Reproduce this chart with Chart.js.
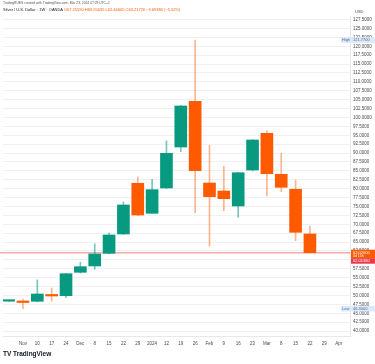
<!DOCTYPE html>
<html>
<head>
<meta charset="utf-8">
<script src="https://cdn.jsdelivr.net/npm/chart.js@4"></script>
<style>
  html, body { margin: 0; padding: 0; background: #fff; }
  #wrap { position: relative; width: 375px; height: 364px; overflow: hidden; }
  #c { position: absolute; left: 0; top: 0; }
  .t { position: absolute; white-space: nowrap; font-family: "Liberation Sans", Arial, sans-serif; line-height: 1; }
  #h1 { left: 3px; top: 1.5px; font-size: 3.3px; color: #555; }
  #h2 { left: 3px; top: 8px; font-size: 4px; color: #222; }
  #h2 span { color: #ff5a00; }
  #usd { left: 355px; top: 10px; font-size: 4px; color: #444; }
  #logo { left: 3px; top: 351px; font-size: 6.5px; font-weight: bold; color: #131722; }
</style>
</head>
<body>
<div id="wrap">
  <canvas id="c" width="375" height="364"></canvas>
  <div class="t" id="h1">TradingRUES created with TradingView.com, Mar 23, 2024 07:29 UTC+1</div>
  <div class="t" id="h2">Silver / U.S. Dollar · 1W · OANDA <span>O67.25590 H69.95635 L62.46605 C63.21720 −3.69380 (−5.52%)</span></div>
  <div class="t" id="usd">USD</div>
  <div class="t" id="logo">TV TradingView</div>
</div>
<script>
// weekly candles, first one is cut off at the left edge
const weeks = ['', 'Nov', '10', '17', '24', 'Dec', '8', '15', '22', '29', '2024', '12', '19', '26', 'Feb', '9', '16', '23', 'Mar', '8', '15', '22', '29', 'Apr'];
const opens  = [48.40, 48.46, 48.37, 50.28, 49.94, 56.52, 58.29, 61.85, 67.28, 81.52, 73.09, 80.20, 91.71, 104.55, 81.60, 79.35, 75.14, 85.25, 95.56, 84.04, 79.83, 67.28];
const highs  = [48.60, 49.00, 54.35, 52.10, 56.20, 59.33, 64.55, 67.56, 76.26, 83.30, 82.64, 93.40, 103.40, 121.77, 92.19, 86.38, 84.60, 93.80, 96.29, 89.94, 82.44, 69.52];
const lows   = [48.30, 46.30, 48.20, 48.46, 49.38, 56.30, 57.36, 61.70, 67.10, 72.40, 73.00, 80.00, 90.39, 73.26, 63.90, 73.82, 71.97, 84.97, 77.95, 79.16, 65.39, 61.90];
const closes = [48.46, 48.03, 50.42, 49.86, 56.12, 58.09, 61.66, 67.00, 75.42, 72.61, 79.72, 89.94, 103.23, 85.06, 77.75, 77.19, 84.49, 93.68, 84.21, 80.39, 67.75, 62.02];

const GREEN = '#089981';
const ORANGE = '#ff5a00';
const up = closes.map((c, i) => c >= opens[i]);

const overlay = {
    id: 'overlay',
    beforeDatasetsDraw(chart) {
        const { ctx, chartArea, scales: { y } } = chart;
        const py = y.getPixelForValue(closes[closes.length - 1]);
        ctx.save();
        ctx.strokeStyle = 'rgba(242,110,110,0.6)';
        ctx.lineWidth = 1.5;
        ctx.beginPath();
        ctx.moveTo(chartArea.left - 3, py);
        ctx.lineTo(chartArea.right, py);
        ctx.stroke();
        ctx.restore();
    },
    afterDraw(chart) {
        const { ctx, chartArea, scales: { y } } = chart;
        const right = chart.width;
        const ax = chartArea.right;
        ctx.save();
        ctx.font = '4px "Liberation Sans", Arial, sans-serif';
        ctx.textBaseline = 'middle';
        ctx.textAlign = 'left';

        // last price labels
        const last = closes[closes.length - 1];
        const py = y.getPixelForValue(last);
        ctx.fillStyle = ORANGE;
        ctx.fillRect(ax + 1, py - 3, right - ax - 1, 8.5);
        ctx.fillStyle = '#f23645';
        ctx.fillRect(ax + 1, py + 5.5, right - ax - 1, 5.5);
        ctx.fillStyle = '#fff';
        ctx.fillText(last.toFixed(5), ax + 3, py);
        ctx.font = '3.5px "Liberation Sans", Arial, sans-serif';
        ctx.fillText('4d 15h', ax + 3, py + 3.6);
        ctx.font = '4px "Liberation Sans", Arial, sans-serif';
        ctx.fillText('62.01380', ax + 3, py + 8.3);

        // high / low markers
        const hi = Math.max(...highs);
        const lo = Math.min(...lows);
        [['High', hi], ['Low', lo]].forEach(([name, v]) => {
            const yy = y.getPixelForValue(v);
            ctx.fillStyle = '#dde8f8';
            ctx.fillRect(ax - 9, yy - 2.8, right - ax + 9, 5.6);
            ctx.fillStyle = '#4a6fa5';
            ctx.fillText(name, ax - 8, yy);
            ctx.fillText(v.toFixed(4), ax + 3, yy);
        });
        ctx.restore();
    }
};

new Chart(document.getElementById('c'), {
    type: 'bar',
    data: {
        datasets: [{
            label: 'wick',
            data: opens.map((o, i) => ({ x: i, y: [lows[i], highs[i]] })),
            backgroundColor: up.map(u => u ? 'rgba(8,153,129,0.55)' : 'rgba(255,90,0,0.45)'),
            barThickness: 1,
            grouped: false,
            order: 2
        },
        {
            label: 'body',
            data: opens.map((o, i) => ({ x: i, y: [o, closes[i]] })),
            backgroundColor: up.map(u => u ? GREEN : ORANGE),
            barThickness: 12,
            minBarLength: 1.5,
            grouped: false,
            order: 1
        }]
    },
    options: {
        responsive: false,
        animation: false,
        devicePixelRatio: 1,
        layout: { padding: { top: 16, left: 3, right: 0, bottom: 0 } },
        plugins: { legend: { display: false }, tooltip: { enabled: false } },
        scales: {
            x: {
                type: 'linear',
                min: 0.1333,
                max: 23.2667,
                grid: { display: false, drawTicks: false },
                border: { color: '#e6e8ee' },
                ticks: {
                    stepSize: 1,
                    autoSkip: false,
                    maxRotation: 0,
                    includeBounds: false,
                    padding: 5,
                    color: '#4a4a4a',
                    font: { size: 4.5, family: '"Liberation Sans", Arial, sans-serif' },
                    callback: v => Number.isInteger(v) ? (weeks[v] || '') : ''
                },
                afterFit: s => { s.height = 28; }
            },
            y: {
                position: 'right',
                min: 38.62,
                max: 128.51,
                grid: { color: '#eef0f4', drawTicks: false },
                border: { color: '#e6e8ee' },
                ticks: {
                    stepSize: 2.5,
                    includeBounds: false,
                    padding: 3,
                    color: '#4a4a4a',
                    font: { size: 4.5, family: '"Liberation Sans", Arial, sans-serif' },
                    callback: v => v.toFixed(4)
                },
                afterFit: s => { s.width = 25; }
            }
        }
    },
    plugins: [overlay]
});
</script>
</body>
</html>
